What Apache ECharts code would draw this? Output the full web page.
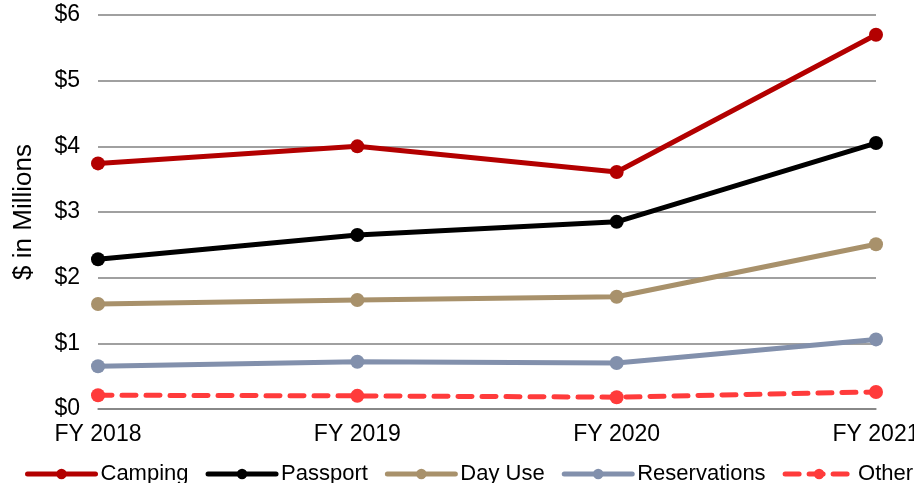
<!DOCTYPE html>
<html>
<head>
<meta charset="utf-8">
<script src="https://cdn.jsdelivr.net/npm/echarts@6/dist/echarts.min.js"></script>
<style>html,body{margin:0;padding:0;background:#fff}#c{width:914px;height:483px}</style>
</head>
<body>
<div id="c"></div>
<script>
const categories = ['FY 2018', 'FY 2019', 'FY 2020', 'FY 2021'];
const camping = [3.74, 4.00, 3.61, 5.70];
const passport = [2.28, 2.65, 2.85, 4.05];
const dayUse = [1.60, 1.66, 1.71, 2.51];
const reservations = [0.65, 0.72, 0.70, 1.06];
const other = [0.21, 0.20, 0.18, 0.26];
const seriesNames = ['Camping', 'Passport', 'Day Use', 'Reservations', 'Other'];
const colors = ['#B30000', '#000000', '#A8916B', '#8290AC', '#FF3B3B'];
const seriesData = [camping, passport, dayUse, reservations, other];

const font = 'Arial, "Liberation Sans", sans-serif';
const chart = echarts.init(document.getElementById('c'), null, {renderer: 'canvas'});
chart.setOption({
  animation: false,
  textStyle: {fontFamily: font},
  grid: {left: 98, right: 38, top: 15, bottom: 74, containLabel: false, outerBoundsMode: 'none'},
  legend: {
    left: 20, top: 458, width: 1400,
    itemWidth: 68, itemHeight: 13, itemGap: 17,
    lineStyle: {width: 5},
    textStyle: {fontSize: 22, color: '#000', fontFamily: font},
    data: seriesNames
  },
  xAxis: {
    type: 'category', data: categories, boundaryGap: false,
    axisLine: {show: true, lineStyle: {color: '#808080', width: 1.5}},
    axisTick: {show: false},
    axisLabel: {fontSize: 23, color: '#000', margin: 14, fontFamily: font}
  },
  yAxis: {
    type: 'value', min: 0, max: 6, interval: 1,
    name: '$ in Millions', nameLocation: 'middle', nameGap: 61, nameRotate: 90,
    nameTextStyle: {fontSize: 26, color: '#000', fontFamily: font},
    axisLine: {show: false}, axisTick: {show: false},
    axisLabel: {fontSize: 23, color: '#000', margin: 18, formatter: v => '$' + v, fontFamily: font},
    splitLine: {lineStyle: {color: '#808080', width: 1.5}}
  },
  series: seriesNames.map((n, i) => ({
    name: n, type: 'line', data: seriesData[i],
    symbol: 'circle', symbolSize: 14,
    itemStyle: {color: colors[i]},
    lineStyle: {color: colors[i], width: 5, type: i === 4 ? [14, 10] : 'solid', cap: 'round'},
    z: 10 - i
  }))
});
</script>
</body>
</html>
